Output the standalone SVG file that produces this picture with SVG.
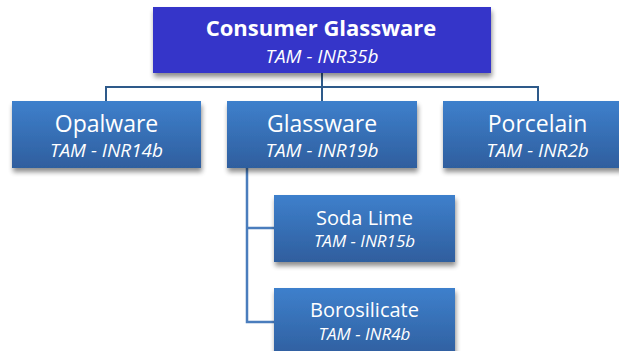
<svg xmlns="http://www.w3.org/2000/svg" width="619" height="351" viewBox="0 0 619 351">
<defs>
<linearGradient id="g" x1="0" y1="0" x2="0" y2="1">
<stop offset="0" stop-color="#3E80CC"/>
<stop offset="1" stop-color="#2F5E9E"/>
</linearGradient>
<filter id="sh" x="-10%" y="-10%" width="125%" height="140%">
<feGaussianBlur in="SourceAlpha" stdDeviation="2.5"/>
<feOffset dx="1" dy="4" result="b"/>
<feComponentTransfer><feFuncA type="linear" slope="0.45"/></feComponentTransfer>
<feMerge><feMergeNode/><feMergeNode in="SourceGraphic"/></feMerge>
</filter>
</defs>
<style>
.box{fill:url(#g);filter:url(#sh)}
.top{fill:#3535C9;filter:url(#sh)}
.t{font-family:"Open Sans","Noto Sans",sans-serif;fill:#fff;text-anchor:middle}
.h1{font-size:22px;font-weight:bold}
.h2{font-size:23px}
.h3{font-size:20px}
.s1{font-size:19px;font-style:italic}
.s2{font-size:17px;font-style:italic}
.c{fill:none;stroke:#2E5A8A;stroke-width:2}
.c2{fill:none;stroke:#4A7DBD;stroke-width:2.5}
</style>
<g id="connectors">
<path class="c" d="M322 73V101M106 101V87H538V101"/>
<path class="c2" d="M247 168V322H274M247 228H274"/>
</g>
<g id="consumer-glassware">
<rect class="top" x="153" y="7" width="338" height="66"/>
<text class="t h1" x="321" y="36">Consumer Glassware</text>
<text class="t s1" x="322" y="63">TAM - INR35b</text>
</g>
<g id="opalware">
<rect class="box" x="12" y="101" width="189" height="67"/>
<text class="t h2" x="106.5" y="132">Opalware</text>
<text class="t s1" x="106.5" y="157">TAM - INR14b</text>
</g>
<g id="glassware">
<rect class="box" x="227" y="101" width="190" height="67"/>
<text class="t h2" x="322" y="132">Glassware</text>
<text class="t s1" x="322" y="157">TAM - INR19b</text>
</g>
<g id="porcelain">
<rect class="box" x="443" y="101" width="190" height="67"/>
<text class="t h2" x="537.5" y="132">Porcelain</text>
<text class="t s1" x="537.5" y="157">TAM - INR2b</text>
</g>
<g id="soda-lime">
<rect class="box" x="274" y="195" width="181" height="67"/>
<text class="t h3" x="364.5" y="225">Soda Lime</text>
<text class="t s2" x="364.5" y="247">TAM - INR15b</text>
</g>
<g id="borosilicate">
<rect class="box" x="274" y="288" width="181" height="70"/>
<text class="t h3" x="364.5" y="317">Borosilicate</text>
<text class="t s2" x="364.5" y="340">TAM - INR4b</text>
</g>
</svg>
